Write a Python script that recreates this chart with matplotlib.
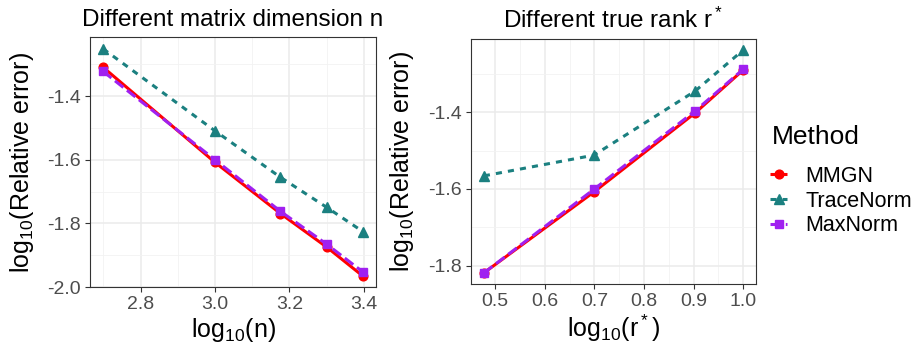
# Zwei Fehlerverläufe (log-log) im ggplot-Stil nachgebaut
import matplotlib
matplotlib.use('Agg')
import matplotlib.pyplot as plt
from matplotlib.transforms import Bbox, TransformedBbox
from matplotlib.ticker import MultipleLocator

# ============================================================================
# DATEN
# ============================================================================
methods = ['MMGN', 'TraceNorm', 'MaxNorm']

# linkes Panel: log10(n)
log_n = [2.699, 3.0, 3.176, 3.301, 3.398]
n_mmgn = [-1.309, -1.608, -1.769, -1.875, -1.966]
n_trace = [-1.251, -1.509, -1.655, -1.750, -1.826]
n_maxnorm = [-1.322, -1.600, -1.762, -1.866, -1.953]

# rechtes Panel: log10(r*)
log_r = [0.477, 0.699, 0.903, 1.0]
r_mmgn = [-1.819, -1.608, -1.402, -1.290]
r_trace = [-1.566, -1.512, -1.345, -1.238]
r_maxnorm = [-1.819, -1.601, -1.397, -1.288]

n_xticks = [2.8, 3.0, 3.2, 3.4]
n_yticks = [-2.0, -1.8, -1.6, -1.4]
r_xticks = [0.5, 0.6, 0.7, 0.8, 0.9, 1.0]
r_yticks = [-1.8, -1.6, -1.4]

# ============================================================================
# STIL
# ============================================================================
COLORS = {'MMGN': '#FF0000', 'TraceNorm': '#1B8080', 'MaxNorm': '#A020F0'}
MARKERS = {'MMGN': 'o', 'TraceNorm': '^', 'MaxNorm': 's'}
DASHES = {'MMGN': None, 'TraceNorm': (2.0, 2.0), 'MaxNorm': (3.5, 1.5)}
SIZES = {'MMGN': 6.3, 'TraceNorm': 6.8, 'MaxNorm': 6.3}

plt.rcParams['font.family'] = ['Liberation Sans', 'DejaVu Sans']
plt.rcParams['mathtext.fontset'] = 'custom'
plt.rcParams['mathtext.rm'] = 'Liberation Sans'
plt.rcParams['mathtext.it'] = 'Liberation Sans'

DPI = 100
fig = plt.figure(figsize=(9.18, 3.48), dpi=DPI)

ax1 = fig.add_axes([90 / 918, 1 - 287 / 348, 286 / 918, 250 / 348])
ax2 = fig.add_axes([471 / 918, 1 - 284 / 348, 285 / 918, 245 / 348])


def style_axes(ax, xticks, yticks, xlim, ylim, minor_x, minor_y):
    ax.set_xlim(*xlim)
    ax.set_ylim(*ylim)
    ax.set_xticks(xticks)
    ax.set_yticks(yticks)
    ax.set_xticklabels([f'{t:.1f}' for t in xticks])
    ax.set_yticklabels([f'{t:.1f}' for t in yticks])
    ax.xaxis.set_minor_locator(MultipleLocator(minor_x))
    ax.yaxis.set_minor_locator(MultipleLocator(minor_y))
    ax.grid(True, which='major', color='#EBEBEB', linewidth=1.1)
    ax.grid(True, which='minor', color='#F2F2F2', linewidth=0.6)
    ax.set_axisbelow(True)
    ax.tick_params(which='major', length=3.5, width=0.8, color='#333333',
                   labelsize=14, labelcolor='#4D4D4D', pad=3)
    ax.tick_params(which='minor', length=0)
    for sp in ax.spines.values():
        sp.set_color('#333333')
        sp.set_linewidth(0.8)


def draw(ax, x, series):
    handles = []
    for name, y in zip(methods, series):
        line, = ax.plot(x, y, color=COLORS[name], linewidth=2.2,
                        marker=MARKERS[name], markersize=SIZES[name],
                        label=name, solid_capstyle='butt')
        if DASHES[name] is not None:
            line.set_dashes(DASHES[name])
        handles.append(line)
    return handles


draw(ax1, log_n, [n_mmgn, n_trace, n_maxnorm])
style_axes(ax1, n_xticks, n_yticks, (2.664, 3.433), (-2.0, -1.214), 0.1, 0.1)

handles = draw(ax2, log_r, [r_mmgn, r_trace, r_maxnorm])
style_axes(ax2, r_xticks, r_yticks, (0.451, 1.026), (-1.848, -1.209), 0.05, 0.1)

ylab = r'$\mathregular{log_{10}}$(Relative error)'
ax1.set_ylabel(ylab, fontsize=18, labelpad=8)
ax2.set_ylabel(ylab, fontsize=18, labelpad=9)
ax1.set_xlabel(r'$\mathregular{log_{10}}$(n)', fontsize=18, labelpad=2)
ax2.set_xlabel(r'$\mathregular{log_{10}(r^*)}$', fontsize=18, labelpad=2)

t1 = ax1.set_title('Different matrix dimension n', fontsize=17.5, pad=8)
ax2.set_title(r'Different true rank $\mathregular{r^*}$', fontsize=17.5, pad=8)

# linker Titel wird vom rechten Panel abgeschnitten
clip = TransformedBbox(Bbox.from_extents(0, 0, 383 / 918, 1), fig.transFigure)
t1.set_clip_box(clip)
t1.set_clip_on(True)

# Legende: Titel separat, damit der Abstand zu den Einträgen stimmt
fig.text(772 / 918, 1 - 137 / 348, 'Method', fontsize=19, va='center', ha='left')
leg = fig.legend(handles, methods, loc='upper left',
                 bbox_to_anchor=(770 / 918, 1 - 166 / 348),
                 frameon=False, fontsize=15.5, handlelength=0.8,
                 handletextpad=0.85, labelspacing=0.17, borderpad=0,
                 borderaxespad=0)

plt.savefig('out.png', dpi=DPI)
plt.close(fig)
